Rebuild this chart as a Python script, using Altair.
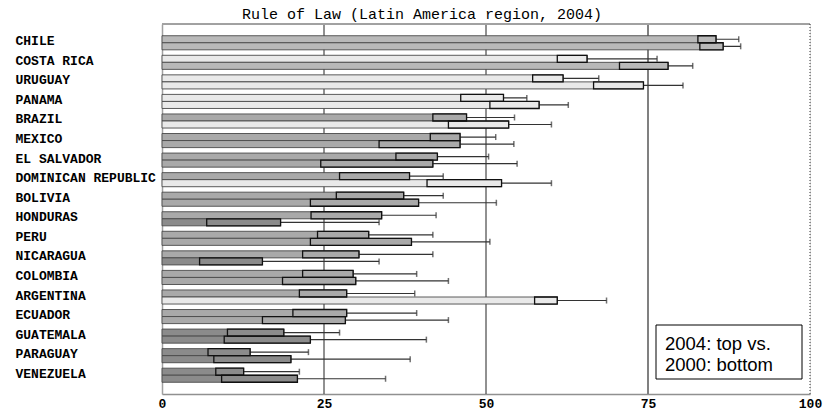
import altair as alt
import pandas as pd

countries = ["CHILE", "COSTA RICA", "URUGUAY", "PANAMA", "BRAZIL", "MEXICO",
             "EL SALVADOR", "DOMINICAN REPUBLIC", "BOLIVIA", "HONDURAS", "PERU",
             "NICARAGUA", "COLOMBIA", "ARGENTINA", "ECUADOR", "GUATEMALA",
             "PARAGUAY", "VENEZUELA"]

val_2004 = [85.5, 65.6, 61.9, 52.7, 47.0, 46.0, 42.5, 38.2, 37.3, 33.9, 31.9, 30.4, 29.5, 28.5, 28.5, 18.8, 13.6, 12.6]
low_2004 = [82.7, 61.0, 57.2, 46.1, 41.8, 41.4, 36.1, 27.4, 26.9, 23.0, 24.0, 21.7, 21.7, 21.2, 20.2, 10.1, 7.1, 8.3]
high_2004 = [89.0, 76.4, 67.4, 56.3, 54.4, 51.5, 50.4, 43.4, 43.4, 42.3, 41.8, 41.8, 39.3, 39.0, 39.3, 27.4, 22.6, 21.2]

val_2000 = [86.6, 78.1, 74.3, 58.2, 53.5, 46.0, 41.8, 52.4, 39.6, 18.3, 38.5, 15.5, 29.9, 61.0, 28.3, 22.9, 19.9, 20.9]
low_2000 = [83.0, 70.6, 66.6, 50.6, 44.2, 33.5, 24.5, 40.9, 22.9, 6.9, 22.9, 5.8, 18.6, 57.5, 15.5, 9.6, 8.0, 9.2]
high_2000 = [89.3, 81.9, 80.4, 62.7, 60.1, 54.3, 54.8, 60.1, 51.6, 33.5, 50.6, 33.5, 44.2, 68.6, 44.2, 40.8, 38.3, 34.5]

x_ticks = [0, 25, 50, 75, 100]
grid_vals = [25, 50, 75]
grid_colors = ["#222222", "#222222", "#808080"]
grid_widths = [1, 1, 2]

band_names = ["10-25", "25-50", "50-75", "75-100"]
band_colors = ["#8b8b8b", "#a9a9a9", "#e9e9e9", "#b9b9b9"]


def band_of(v):
    if v < 25:
        return "10-25"
    if v < 50:
        return "25-50"
    if v < 75:
        return "50-75"
    return "75-100"


rows = []
for i, c in enumerate(countries):
    rows.append(dict(country=c, year="2004", value=val_2004[i], low=low_2004[i],
                     high=high_2004[i], band=band_of(val_2004[i])))
    rows.append(dict(country=c, year="2000", value=val_2000[i], low=low_2000[i],
                     high=high_2000[i], band=band_of(val_2000[i])))
df = pd.DataFrame(rows)

grid_df = pd.DataFrame({"x": grid_vals, "color": grid_colors, "w": grid_widths})

xscale = alt.Scale(domain=[0, 100], nice=False, zero=True)
yscale = alt.Scale(paddingInner=0.28, paddingOuter=0.6)
yoff_scale = alt.Scale(domain=["2004", "2000"], paddingInner=0, paddingOuter=0)

mono = "Liberation Mono"

x_axis = alt.Axis(values=x_ticks, grid=False, ticks=False, labelPadding=3,
                  labelFont=mono, labelFontSize=13, labelFontWeight="bold",
                  labelColor="#000", domainColor="#909090", domainWidth=1.5,
                  title=None, labelFlush=False)
y_axis = alt.Axis(ticks=False, labelAlign="left", labelPadding=147, labelFont=mono,
                  labelFontSize=13, labelFontWeight="bold", labelColor="#000",
                  labelOffset=-1.5,
                  domainColor="#a0a0a0", domainWidth=1.5, title=None, labelLimit=200)

base = alt.Chart(df)

grid = alt.Chart(grid_df).mark_rule().encode(
    x=alt.X("x:Q", scale=xscale, axis=x_axis),
    color=alt.Color("color:N", scale=None),
    strokeWidth=alt.StrokeWidth("w:Q", scale=None),
)

top_border = alt.Chart(grid_df).mark_rule(color="#a0a0a0", strokeWidth=1.5).encode(
    y=alt.value(0)
)

right_border = alt.Chart(pd.DataFrame({"x": [100]})).mark_rule(
    color="#333333", strokeDash=[1, 2], strokeWidth=1
).encode(x=alt.X("x:Q", scale=xscale))

y_enc = alt.Y("country:N", sort=countries, scale=yscale, axis=y_axis)
yoff = alt.YOffset("year:N", sort=["2004", "2000"], scale=yoff_scale)

bars = base.mark_bar(stroke="#4a4a4a", strokeWidth=0.9).encode(
    x=alt.X("value:Q", scale=xscale),
    y=y_enc,
    yOffset=yoff,
    color=alt.Color("band:N", scale=alt.Scale(domain=band_names, range=band_colors), legend=None),
)

boxes = base.mark_bar(fill="transparent", stroke="#111111", strokeWidth=1.3).encode(
    x=alt.X("low:Q", scale=xscale),
    x2="value:Q",
    y=y_enc,
    yOffset=yoff,
)

whisk = base.mark_rule(color="#333333", strokeWidth=1.2).encode(
    x=alt.X("low:Q", scale=xscale),
    x2="high:Q",
    y=y_enc,
    yOffset=yoff,
)

caps = base.mark_tick(color="#333333", thickness=1.5, size=6, orient="vertical").encode(
    x=alt.X("high:Q", scale=xscale),
    y=y_enc,
    yOffset=yoff,
)

note_box = alt.Chart(grid_df.head(1)).mark_rect(fill="white", stroke="#000", strokeWidth=1).encode(
    x=alt.value(494), x2=alt.value(640), y=alt.value(301), y2=alt.value(355)
)
note_text = alt.Chart(grid_df.head(1)).mark_text(
    align="left", baseline="alphabetic", font="Liberation Sans", fontSize=18.5,
    lineHeight=21, color="#000"
).encode(
    x=alt.value(503), y=alt.value(326),
    text=alt.value(["2004: top vs.", "2000: bottom"])
)

chart = alt.layer(grid, top_border, right_border, whisk, bars, boxes, caps, note_box, note_text).properties(
    width=648, height=370,
    title=alt.TitleParams("Rule of Law (Latin America region, 2004)", font=mono,
                          fontSize=15, fontWeight="normal", color="#000",
                          offset=1.5, dx=-64, anchor="middle"),
    padding={"left": 154, "top": 16, "right": 13, "bottom": 17},
    autosize="none",
).configure_view(stroke=None).configure(background="white")

chart.save("out.html", embed_options={"renderer": "svg", "actions": False})
